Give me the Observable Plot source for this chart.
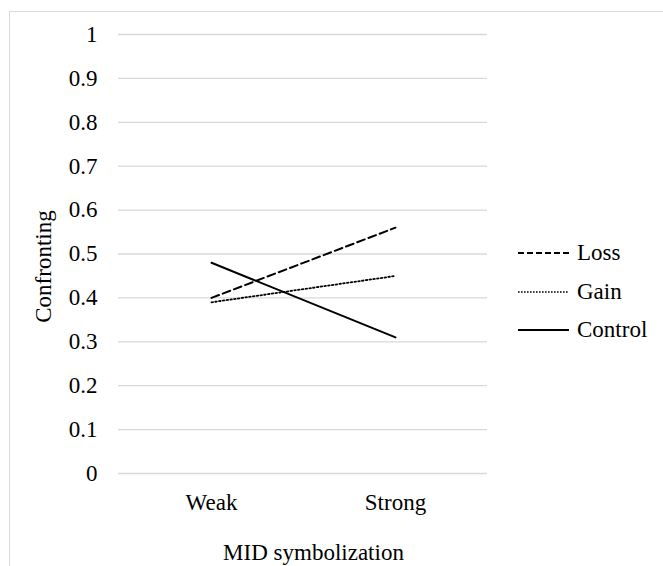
<!DOCTYPE html>
<html><head><meta charset="utf-8">
<script src="https://cdn.jsdelivr.net/npm/d3@7"></script>
<script src="https://cdn.jsdelivr.net/npm/@observablehq/plot@0.6"></script>
<style>
body{margin:0;background:#fff;overflow:hidden;width:663px;height:566px;position:relative;font-family:'Liberation Serif';color:#000}
#border{position:absolute;left:9px;top:11px;width:800px;height:800px;border:1px solid #d9d9d9;box-sizing:border-box;pointer-events:none}
#chart{position:absolute;left:0;top:0}
#legend{position:absolute;left:518px;top:234px;font-size:23px}
.row{display:flex;align-items:center;height:38.5px}
.row svg{margin-right:8px}
</style></head><body>
<div id="border"></div><div id="chart"></div><div id="legend"></div>
<script>
const categories = ["Weak", "Strong"];
const seriesNames = ["Loss", "Gain", "Control"];
const lossValues = [0.40, 0.56];
const gainValues = [0.39, 0.45];
const controlValues = [0.48, 0.31];
const yTicks = [0, 0.1, 0.2, 0.3, 0.4, 0.5, 0.6, 0.7, 0.8, 0.9, 1];
const yLabel = "Confronting";
const xLabel = "MID symbolization";
const dashStyles = {Loss: "8,4", Gain: "1.6,2.2", Control: "none"};
const FONT = "Liberation Serif";

const valuesBySeries = {Loss: lossValues, Gain: gainValues, Control: controlValues};
const rows = seriesNames.flatMap(s => categories.map((c, i) => ({series: s, category: c, value: valuesBySeries[s][i]})));

const lineMarks = seriesNames.map(s => Plot.line(rows.filter(r => r.series === s), {
  x: "category", y: "value", stroke: "#000", strokeWidth: s === "Gain" ? 1.8 : 2,
  strokeDasharray: dashStyles[s] === "none" ? undefined : dashStyles[s]
}));

const chart = Plot.plot({
  width: 663, height: 566,
  marginLeft: 118, marginRight: 176, marginTop: 34, marginBottom: 93,
  style: {fontFamily: FONT, fontSize: "23px", color: "#000", background: "transparent", overflow: "visible"},
  x: {type: "point", domain: categories, padding: 0.5},
  y: {domain: [0, 1]},
  marks: [
    Plot.gridY(yTicks, {stroke: "#d9d9d9", strokeOpacity: 1, strokeWidth: 1.3}),
    Plot.axisY(yTicks, {tickSize: 0, tickPadding: 21, tickFormat: d => String(+d.toFixed(1)), label: null, fontFamily: FONT, fontSize: 23}),
    Plot.axisX({tickSize: 0, tickPadding: 20, label: null, fontFamily: FONT, fontSize: 23}),
    ...lineMarks,
    Plot.text([yLabel], {frameAnchor: "left", textAnchor: "middle", lineAnchor: "middle", rotate: -90, dx: -75, dy: 12.5, fontSize: 23, fontFamily: FONT}),
    Plot.text([xLabel], {frameAnchor: "bottom", textAnchor: "middle", lineAnchor: "middle", dx: 10.5, dy: 79, fontSize: 23, fontFamily: FONT})
  ]
});
document.getElementById("chart").appendChild(chart);

const legend = document.getElementById("legend");
legend.style.fontFamily = FONT;
seriesNames.forEach(s => {
  const row = document.createElement("div");
  row.className = "row";
  const dash = dashStyles[s] === "none" ? "" : `stroke-dasharray="${s === "Gain" ? "1.6,1.4" : "6,3"}"`;
  row.innerHTML = `<svg width="51" height="4"><line x1="0" x2="51" y1="2" y2="2" stroke="#000" stroke-width="${s === "Gain" ? 1.3 : 2}" ${dash}/></svg><span>${s}</span>`;
  legend.appendChild(row);
});
</script>
</body></html>
